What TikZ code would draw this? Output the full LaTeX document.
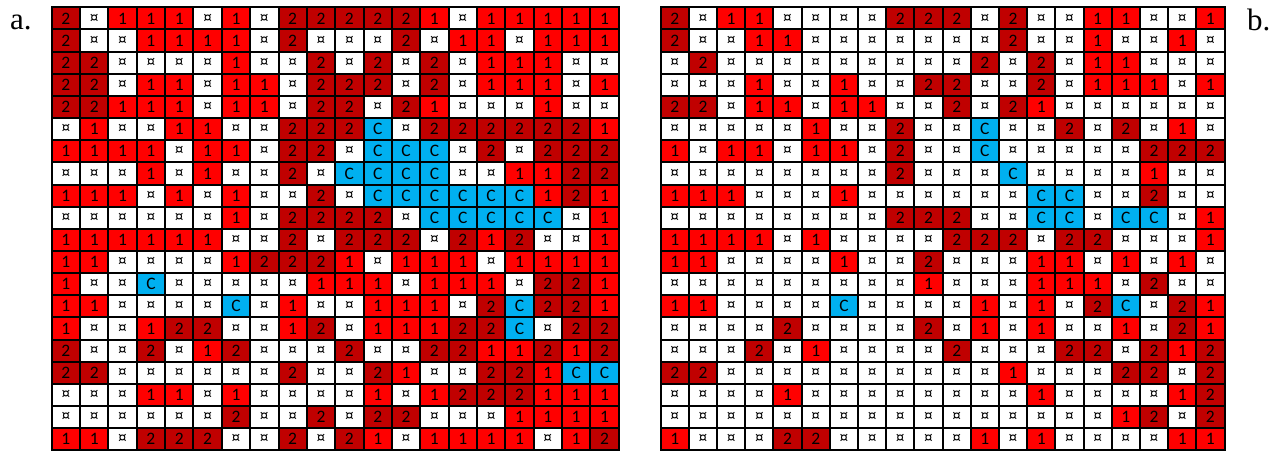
\documentclass[tikz,border=0pt]{standalone}
\usepackage{fontspec}
\setmainfont{Liberation Serif}
\newfontfamily\cellfamily{Carlito}
\definecolor{col2}{HTML}{C00000}
\definecolor{col1}{HTML}{FF0000}
\definecolor{colx}{HTML}{FFFFFF}
\definecolor{colC}{HTML}{00B0F0}
\def\xmark{x}
\newcommand\celltxt[1]{\edef\tmpv{#1}\ifx\tmpv\xmark ¤\else #1\fi}
\newcommand\mygrid[4]{%
  \foreach \row [count=\r] in {#4} {
    \foreach \v [count=\c] in \row {
      \node[cell, fill=col\v, minimum width=#3pt] (#1-\r-\c)
        at ({#2+(\c-0.5)*#3}, {7.3+(\r-0.5)*22.15}) {\celltxt{\v}};
    }
  }%
}
\begin{document}
\begin{tikzpicture}[x=1pt, y=-1pt,
  cell/.style={draw=black, line width=2pt, inner sep=0pt, outer sep=0pt,
    minimum height=22.15pt, text=black,
    font=\cellfamily\fontsize{17.5}{17.5}\selectfont},
  lbl/.style={anchor=base west, inner sep=0pt, font=\fontsize{31}{31}\selectfont}]
\fill[white] (0,0) rectangle (1283,451);
\useasboundingbox (0,0) rectangle (1283,451);
\mygrid{a}{51.7}{28.35}{
{2,x,1,1,1,x,1,x,2,2,2,2,2,1,x,1,1,1,1,1},
{2,x,x,1,1,1,1,x,2,x,x,x,2,x,1,1,x,1,1,1},
{2,2,x,x,x,x,1,x,x,2,x,2,x,2,x,1,1,1,x,x},
{2,2,x,1,1,x,1,1,x,2,2,2,x,2,x,1,1,1,x,1},
{2,2,1,1,1,x,1,1,x,2,2,x,2,1,x,x,x,1,x,x},
{x,1,x,x,1,1,x,x,2,2,2,C,x,2,2,2,2,2,2,1},
{1,1,1,1,x,1,1,x,2,2,x,C,C,C,x,2,x,2,2,2},
{x,x,x,1,x,1,x,x,2,x,C,C,C,C,x,x,1,1,2,2},
{1,1,1,x,1,x,1,x,x,2,x,C,C,C,C,C,C,1,2,1},
{x,x,x,x,x,x,1,x,2,2,2,2,x,C,C,C,C,C,x,1},
{1,1,1,1,1,1,x,x,2,x,2,2,2,x,2,1,2,x,x,1},
{1,1,x,x,x,x,1,2,2,2,1,x,1,1,1,x,1,1,1,1},
{1,x,x,C,x,x,x,x,x,1,1,1,x,1,1,1,x,2,2,1},
{1,1,x,x,x,x,C,x,1,x,x,1,1,1,x,2,C,2,2,1},
{1,x,x,1,2,2,x,x,1,2,x,1,1,1,2,2,C,x,2,2},
{2,x,x,2,x,1,2,x,x,x,2,x,x,2,2,1,1,2,1,2},
{2,2,x,x,x,x,x,x,2,x,x,2,1,x,x,2,2,1,C,C},
{x,x,x,1,1,x,1,x,x,x,x,1,x,1,2,2,2,1,1,1},
{x,x,x,x,x,x,2,x,x,2,x,2,2,x,x,x,1,1,1,1},
{1,1,x,2,2,2,x,x,2,x,2,1,x,1,1,1,1,x,1,2}}
\mygrid{b}{660.7}{28.19}{
{2,x,1,1,x,x,x,x,2,2,2,x,2,x,x,1,1,x,x,1},
{2,x,x,1,1,x,x,x,x,x,x,x,2,x,x,1,x,x,1,x},
{x,2,x,x,x,x,x,x,x,x,x,2,x,2,x,1,1,x,x,x},
{x,x,x,1,x,x,1,x,x,2,2,x,x,2,x,1,1,1,x,1},
{2,2,x,1,1,x,1,1,x,x,2,x,2,1,x,x,x,x,x,x},
{x,x,x,x,x,1,x,x,2,x,x,C,x,x,2,x,2,x,1,x},
{1,x,1,1,x,1,1,x,2,x,x,C,x,x,x,x,x,2,2,2},
{x,x,x,x,x,x,x,x,2,x,x,x,C,x,x,x,x,1,x,x},
{1,1,1,x,x,x,1,x,x,x,x,x,x,C,C,x,x,2,x,x},
{x,x,x,x,x,x,x,x,2,2,2,x,x,C,C,x,C,C,x,1},
{1,1,1,1,x,1,x,x,x,x,2,2,2,x,2,2,x,x,x,1},
{1,1,x,x,x,x,1,x,x,2,x,x,x,1,1,x,1,x,1,x},
{x,x,x,x,x,x,x,x,x,1,x,x,x,1,1,1,x,2,x,x},
{1,1,x,x,x,x,C,x,x,x,x,1,x,1,x,2,C,x,2,1},
{x,x,x,x,2,x,x,x,x,2,x,1,x,1,x,x,1,x,2,1},
{x,x,x,2,x,1,x,x,x,x,2,x,x,x,2,2,x,2,1,2},
{2,2,x,x,x,x,x,x,x,x,x,x,1,x,x,x,2,2,x,2},
{x,x,x,x,1,x,x,x,x,x,x,x,x,1,x,x,x,x,1,2},
{x,x,x,x,x,x,x,x,x,x,x,x,x,x,x,x,1,2,x,2},
{1,x,x,x,2,2,x,x,x,x,x,1,x,1,x,x,x,x,1,1}}
\node[lbl] (la) at (10,29) {a.};
\node[lbl] (lb) at (1247,30) {b.};
\end{tikzpicture}
\end{document}
